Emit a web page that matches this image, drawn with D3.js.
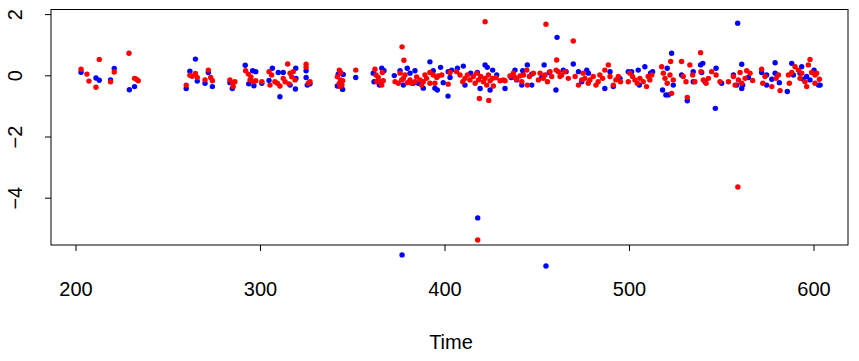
<!DOCTYPE html>
<html>
<head>
<meta charset="utf-8">
<script src="https://cdn.jsdelivr.net/npm/d3@7"></script>
<style>
  html, body { margin: 0; padding: 0; background: #fff; }
  svg { display: block; }
  text { font-family: "Liberation Sans", Arial, Helvetica, sans-serif; fill: #000; }
</style>
</head>
<body>
<svg id="chart" width="859" height="361"></svg>
<script>
// ---- data ----
const xTicks = [200, 300, 400, 500, 600];
const yTicks = [2, 0, -2, -4];
const xLabel = "Time";

// [time, value]
const redSeries = [
  [203,0.20],[206.2,0.04],[207.3,-0.19],[211.1,-0.39],[212.9,0.52],[221,0.11],[219,-0.21],[229,0.72],
  [232,-0.10],[233,-0.13],[234,-0.18],[262,0.00],[263.2,-0.03],[265,0.06],[266,-0.07],[260,-0.32],
  [272,0.17],[273.3,-0.07],[274.2,-0.18],[270.2,-0.15],[283.7,-0.15],[285.2,-0.26],[286.4,-0.21],[285.5,-0.37],
  [292.2,0.15],[293.7,0.04],[295.1,-0.05],[294.6,-0.15],[296.4,-0.21],[297.7,-0.18],[301,-0.21],
  [304.9,0.12],[306.3,0.01],[308.1,-0.21],[309.4,-0.26],[310.8,-0.35],[305.4,-0.32],
  [315,0.37],[312.6,-0.10],[313.6,-0.21],[315.7,-0.28],[317.2,-0.05],[319,-0.15],[318,0.12],[316.3,0.07],
  [325,0.36],[325,0.26],[327.1,-0.21],[326.2,-0.26],
  [343,0.17],[343.7,0.09],[341.9,-0.05],[343.7,-0.15],[343,-0.26],[344.4,-0.32],[344.8,-0.18],[343.4,-0.37],
  [351.9,0.17],
  [362.3,0.20],[362.9,0.01],[364.1,-0.07],[365,-0.21],[363.3,-0.21],[366.3,0.09],[366.8,-0.18],[366,-0.32],
  [377,0.93],[378,0.49],
  [373.2,-0.21],[375,-0.26],[375.9,0.07],[376.8,-0.15],[377.7,-0.10],[378.6,0.01],[379.8,-0.24],[381.3,-0.15],
  [382.2,-0.26],[384,-0.21],[384.9,-0.05],[386.7,-0.15],[388.5,-0.21],[387.6,-0.32],
  [389.4,0.01],[390.3,-0.10],[392.1,0.09],[393.9,0.01],[395.8,-0.07],[396.6,-0.02],[398.5,0.01],[392.1,-0.26],
  [394.8,-0.26],[403,0.09],[402,-0.29],
  [406.6,0.12],[408.4,0.01],[409.9,-0.21],[411.1,-0.10],[412.4,0.01],[413.8,-0.15],[415.6,-0.04],[416.6,-0.26],
  [417.5,0.07],[418.4,-0.15],[419.6,-0.04],[421.1,-0.21],[422,-0.10],[422.9,-0.32],[423.8,0.01],[424.7,-0.18],
  [426.1,-0.10],[426.5,-0.35],[427.9,-0.07],[430.1,-0.18],[431.9,-0.15],[432.8,-0.18],[435.5,-0.02],[437.3,0.07],
  [438.2,-0.07],[439.1,-0.13],[440.9,-0.02],[441.9,-0.21],[442.8,0.01],[444.6,0.17],[444.9,-0.32],[446,-0.04],
  [448.2,0.07],[450.9,-0.15],[451.8,0.07],[453.6,-0.10],[454.5,0.01],[455.8,-0.21],[457.2,0.12],[458.1,-0.04],
  [460.5,0.17],[461.7,0.12],[462.6,-0.04],[463.5,0.01],[465.3,0.12],[467.1,-0.10],[470.8,-0.04],[472.6,-0.32],
  [474.4,-0.15],
  [422,1.75],[455,1.67],[469.8,1.12],[460.8,0.50],[418.9,-0.76],[424,-0.82],[418,-5.38],
  [475.2,0.07],[476.1,-0.10],[477.9,-0.26],[478.8,-0.15],[480.6,-0.04],[482.1,-0.32],[483.3,-0.21],[484.2,0.01],
  [485.7,-0.10],[486.9,0.17],[488.8,0.34],[489.7,-0.04],[491.5,-0.32],[492.9,-0.15],[494.2,-0.04],[495.4,-0.21],
  [499.6,-0.21],[500.5,0.07],[501.9,-0.04],[503.2,-0.15],[504.5,-0.26],[505.9,-0.10],[507.7,-0.21],[509.5,-0.37],
  [510.4,-0.04],[511.3,-0.15],[512.3,0.01],[517.7,0.28],[518.6,0.07],[519.5,-0.10],[520.7,-0.26],[522.2,0.01],
  [523.1,-0.59],[522.6,0.45],[524,-0.15],[528.5,0.45],[529.4,-0.04],[530.9,-0.21],[531.6,-0.72],[533,0.34],
  [534.5,0.01],[535.7,-0.21],[538.8,0.74],
  [539,0.12],[540.3,-0.15],[541.8,-0.26],[543,-0.10],[544.8,0.12],[547.2,0.01],[549.3,-0.21],[553.9,-0.21],
  [556.6,-0.04],[557.5,-0.32],[559.3,-0.15],[560.2,0.09],[561.1,-0.26],[562.9,-0.10],[563.8,0.15],[565.6,0.07],
  [567,-0.17],[571.9,0.20],[572.5,-0.26],[573.7,-0.04],[577.4,-0.37],[579.7,-0.10],[581.9,-0.50],[581,0.01],
  [586.4,0.01],[586.9,-0.26],[588.2,0.09],[590,0.28],[591.8,0.17],[592.7,-0.10],[593.6,0.07],[595.4,-0.21],
  [596.3,-0.37],[598.1,0.52],[597.2,0.34],[599,0.09],[600.8,0.01],[601.7,0.07],[603.2,-0.13],[600.8,-0.26],
  [559,-3.65]
];

const blueSeries = [
  [203,0.10],[211.1,-0.09],[212.9,-0.16],[221,0.22],[219,-0.15],[229.2,-0.47],[232,-0.37],[265,0.53],
  [262,0.13],[266,-0.19],[260,-0.43],
  [272,0.09],[274.2,-0.37],[270.2,-0.26],[283.7,-0.24],[285,-0.43],[292,0.33],[296,0.15],[297.7,0.12],
  [293.9,-0.28],[296.7,-0.34],[301,-0.26],[306.7,0.23],[304.9,-0.17],[309.9,0.09],[312.6,0.09],[310.8,-0.70],
  [316.3,-0.32],[319.4,0.23],[319.5,-0.10],[319.2,-0.45],[325,0.15],[325,-0.07],[325.6,-0.32],[327.1,-0.28],
  [342.4,0.04],[345.1,0.03],[341.9,-0.35],[344.8,-0.46],[343.7,-0.33],[351.9,-0.07],[361.4,0.07],[366,0.23],
  [367.2,0.15],[364.7,-0.32],[361.8,-0.21],[372.8,-0.01],[375.9,0.15],[379.8,0.23],[381.3,0.07],[384,0.15],
  [385.8,-0.26],[383.1,-0.26],[377.7,-0.32],[388.5,-0.42],[392.1,0.44],[393.9,0.15],[397.9,0.26],[394.8,-0.42],
  [396.1,-0.48],[399.3,-0.24],[401.9,-0.68],[403,-0.07],[402,0.12],
  [403.9,0.17],[407,0.23],[410.2,0.30],[411.1,-0.32],[414.2,0.07],[417.8,0.09],[419.3,-0.43],[422,0.34],
  [423.2,0.26],[424.7,-0.48],[426.1,0.17],[428.3,0.01],[432.8,-0.43],[436.1,-0.07],[438.2,0.17],[439.1,-0.15],
  [441.9,-0.32],[442.4,0.15],[444.9,0.34],[447.3,-0.32],[447.3,0.04],[454,0.34],[452.7,-0.07],[456.8,0.09],
  [464.4,0.17],[465.9,0.12],[472.6,0.12],[474.4,-0.21],[477.1,0.17],[478,0.07],
  [461,1.24],[469.8,0.37],[460.4,-0.48],[377,-5.87],[418,-4.66],[455,-6.23],
  [486.9,-0.43],[489.7,0.12],[491.5,-0.37],[495.1,-0.10],[499.6,0.12],[501.4,0.12],[505,0.17],[505.6,-0.32],
  [508.6,0.28],[511.7,0.07],[512.8,0.12],[518.2,-0.48],[520,-0.64],[521.3,-0.64],[520.7,0.23],[523.1,0.72],
  [524,-0.32],[528.5,0.01],[531.6,-0.83],[534.8,0.12],[534.8,-0.21],[538.8,0.34],
  [540,0.39],[539.4,0.09],[547.2,0.23],[541.2,-0.21],[550.2,-0.26],[556.6,0.01],[558.4,-0.32],[561.1,-0.43],
  [561.6,-0.32],[561.1,0.36],[564.7,-0.07],[571.9,0.09],[574.6,0.01],[574.6,-0.32],[577.4,-0.13],[579.2,0.41],
  [579.2,0.07],[581.5,-0.24],[585.8,-0.53],[588.2,0.39],[589.1,0.01],[592.7,0.07],[593.6,0.28],[594.5,-0.13],
  [596.3,-0.04],[598.1,-0.15],[600.3,0.17],[602.7,-0.32],[603.6,-0.32],[546.8,-1.08],[558.9,1.70]
];

// ---- layout ----
const svg = d3.select("#chart");
const box = { left: 51, right: 848, top: 9.5, bottom: 245 };

const x = d3.scaleLinear().domain([200, 600]).range([75.5, 813.5]);
const y = d3.scaleLinear().domain([2, -4]).range([14.1, 197.7]);

// blue first, red on top
const r = 2.7;
svg.append("g").selectAll("circle").data(blueSeries).join("circle")
  .attr("cx", d => x(d[0])).attr("cy", d => y(d[1])).attr("r", r).attr("fill", "#0000FF");
svg.append("g").selectAll("circle").data(redSeries).join("circle")
  .attr("cx", d => x(d[0])).attr("cy", d => y(d[1])).attr("r", r).attr("fill", "#FF0000");

// box
svg.append("rect")
  .attr("x", box.left).attr("y", box.top)
  .attr("width", box.right - box.left).attr("height", box.bottom - box.top)
  .attr("fill", "none").attr("stroke", "#000").attr("stroke-width", 1);

const fontSize = 20;

// x axis
const xAxis = d3.axisBottom(x).tickValues(xTicks).tickSize(6).tickPadding(0).tickFormat(d3.format("d"));
const gx = svg.append("g").attr("transform", `translate(0,${box.bottom})`).call(xAxis);
gx.select(".domain").remove();
gx.selectAll("line").attr("stroke", "#000");
gx.selectAll("text").attr("font-size", fontSize).attr("dy", null).attr("y", 51)
  .style("font-family", '"Liberation Sans", Arial, sans-serif');

// y axis
const yAxis = d3.axisLeft(y).tickValues(yTicks).tickSize(6).tickFormat(d3.format("d"));
const gy = svg.append("g").attr("transform", `translate(${box.left},0)`).call(yAxis);
gy.select(".domain").remove();
gy.selectAll("line").attr("stroke", "#000");
gy.selectAll("text")
  .attr("font-size", fontSize)
  .attr("x", null).attr("dy", null)
  .attr("text-anchor", "middle")
  .attr("transform", "translate(-29,0) rotate(-90)")
  .style("font-family", '"Liberation Sans", Arial, sans-serif');

// x label
svg.append("text")
  .attr("x", 451).attr("y", 349)
  .attr("text-anchor", "middle")
  .attr("font-size", fontSize)
  .text(xLabel);
</script>
</body>
</html>
